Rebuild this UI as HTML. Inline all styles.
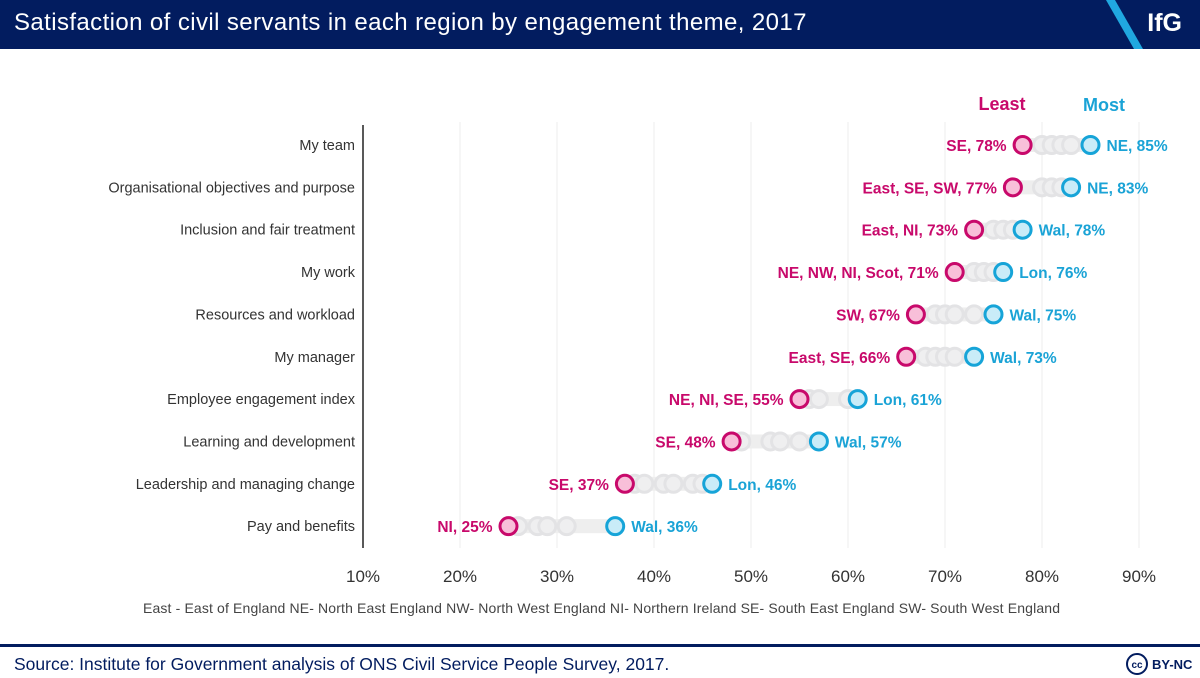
<!DOCTYPE html>
<html><head><meta charset="utf-8"><style>
body{margin:0;width:1200px;height:678px;background:#fff;font-family:"Liberation Sans","DejaVu Sans",sans-serif;overflow:hidden;position:relative}
.hdr{position:absolute;left:0;top:0;width:1200px;height:49px;background:#021c5f}
.title{position:absolute;left:14px;top:9px;color:#fff;font-size:24px;letter-spacing:0.4px}
.logo{position:absolute;right:18px;top:9px;color:#fff;font-size:25px;font-weight:bold}
svg{position:absolute;left:0;top:0}
</style></head><body>
<div class="hdr">
<div class="title">Satisfaction of civil servants in each region by engagement theme, 2017</div>
<div class="logo">IfG</div>
</div>
<svg width="1200" height="678" id="chart">
<polygon points="1106,0 1115,0 1143,49 1134,49" fill="#20a8e0"/>
</svg>
<script>
const categories=["My team","Organisational objectives and purpose","Inclusion and fair treatment","My work","Resources and workload","My manager","Employee engagement index","Learning and development","Leadership and managing change","Pay and benefits"];
const leastValues=[78,77,73,71,67,66,55,48,37,25];
const leastLabels=["SE","East, SE, SW","East, NI","NE, NW, NI, Scot","SW","East, SE","NE, NI, SE","SE","SE","NI"];
const mostValues=[85,83,78,76,75,73,61,57,46,36];
const mostLabels=["NE","NE","Wal","Lon","Wal","Wal","Lon","Wal","Lon","Wal"];
const otherValues=[[80,81,82,83],[80,81,82],[75,76,77],[73,74,75],[69,70,71,73],[68,69,70,71],[56,57,60],[49,52,53,55],[38,39,41,42,44,45],[26,28,29,31]];
const ticks=[10,20,30,40,50,60,70,80,90];
const svg=document.getElementById('chart');
const NS='http://www.w3.org/2000/svg';
const x=v=>363+(v-10)*9.7;
const y=i=>145+i*42.35;
function mk(t,a,txt){const e=document.createElementNS(NS,t);for(const k in a)e.setAttribute(k,a[k]);if(txt!=null)e.textContent=txt;svg.appendChild(e);return e;}
ticks.forEach(t=>{
 if(t>10){const g=mk('line',{x1:x(t),x2:x(t),y1:122,y2:548,stroke:'#eeeeee','stroke-width':1});
 
 }
 const l=mk('text',{x:x(t),y:582,'text-anchor':'middle','font-size':17,fill:'#333'},t+'%');
 
 
});
const ax=mk('line',{x1:363,x2:363,y1:125,y2:548,stroke:'#222','stroke-width':1.5});


const h1=mk('text',{x:1002,y:110,'text-anchor':'middle','font-size':18,'font-weight':'bold',fill:'#c8096b'},'Least');


const h2=mk('text',{x:1104,y:111,'text-anchor':'middle','font-size':18,'font-weight':'bold',fill:'#1aa3d6'},'Most');


categories.forEach((c,i)=>{
 const yy=y(i);
 const cl=mk('text',{x:355,y:yy+5,'text-anchor':'end','font-size':14.5,fill:'#333'},c);
 
 
 const band=mk('rect',{x:x(leastValues[i]),y:yy-7,width:x(mostValues[i])-x(leastValues[i]),height:14,fill:'#eeeeee'});
 
 
 otherValues[i].forEach(v=>{
  const o=mk('circle',{cx:x(v),cy:yy,r:8.5,fill:'#efeff0',stroke:'#e3e3e5','stroke-width':3});
  
  
 });
 const lc=mk('circle',{cx:x(leastValues[i]),cy:yy,r:8.5,fill:'#f8bfd9',stroke:'#c8096b','stroke-width':3});
 
 
 const mc=mk('circle',{cx:x(mostValues[i]),cy:yy,r:8.5,fill:'#c9ecf8',stroke:'#16a4d8','stroke-width':3});
 
 
 const lt=mk('text',{x:x(leastValues[i])-16,y:yy+6,'text-anchor':'end','font-size':15.5,'font-weight':'bold',fill:'#c8096b'},leastLabels[i]+', '+leastValues[i]+'%');
 
 
 const mt=mk('text',{x:x(mostValues[i])+16,y:yy+6,'text-anchor':'start','font-size':15.5,'font-weight':'bold',fill:'#1aa3d6'},mostLabels[i]+', '+mostValues[i]+'%');
 
 
});
const note=mk('text',{x:143,y:613,'font-size':14,fill:'#444',textLength:917},'East - East of England  NE- North East England  NW- North West England  NI- Northern Ireland  SE- South East England  SW- South West England');


const rule=mk('rect',{x:0,y:644,width:1200,height:3,fill:'#021c5f'});


const src=mk('text',{x:14,y:670,'font-size':17.5,fill:'#021c5f'},'Source: Institute for Government analysis of ONS Civil Service People Survey, 2017.');


const cc=mk('circle',{cx:1137,cy:664,r:10,fill:'none',stroke:'#021c5f','stroke-width':2});


const cct=mk('text',{x:1137,y:668,'text-anchor':'middle','font-size':10,'font-weight':'bold',fill:'#021c5f'},'cc');


const by=mk('text',{x:1152,y:669,'font-size':13,'font-weight':'bold',fill:'#021c5f'},'BY-NC');


</script>
</body></html>
